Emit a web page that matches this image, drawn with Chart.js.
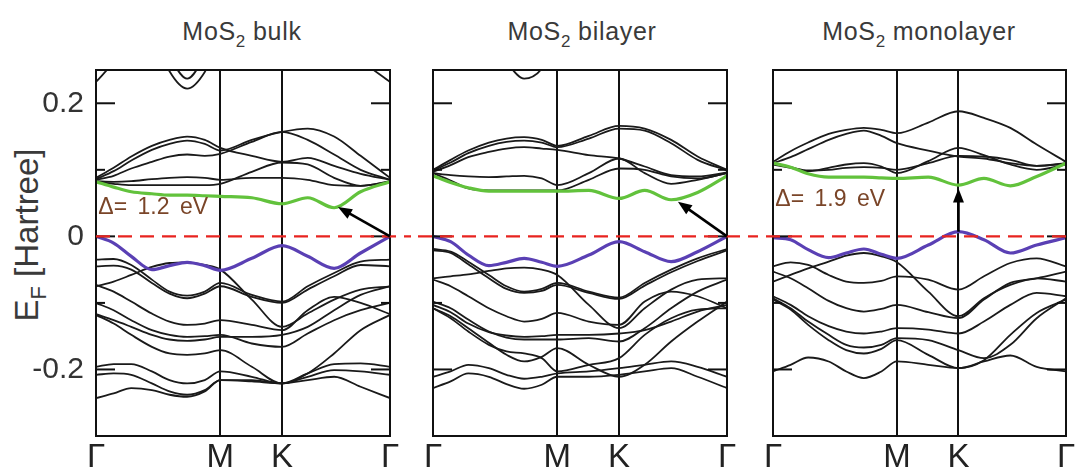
<!DOCTYPE html>
<html>
<head>
<meta charset="utf-8">
<script src="https://cdn.jsdelivr.net/npm/chart.js@4.4.1/dist/chart.umd.min.js"></script>
<style>
  html, body { margin: 0; padding: 0; background: #fff; }
  body { position: relative; width: 1079px; height: 468px; overflow: hidden;
         font-family: "Liberation Sans", Arial, sans-serif; }
  canvas { position: absolute; top: 0; }
  .title { position: absolute; top: 19px; font-size: 25px; line-height: 25px; color: #3a3a3a;
           white-space: nowrap; transform: translateX(-50%); letter-spacing: 0.7px; }
  .title sub { font-size: 17px; vertical-align: -7px; line-height: 0; letter-spacing: 0; }
  #ylab { position: absolute; left: -83px; top: 215px; width: 220px; height: 40px; line-height: 40px;
          text-align: center; font-size: 33px; color: #3a3a3a; white-space: nowrap;
          transform: rotate(-90deg); }
  #ylab sub { font-size: 22px; vertical-align: -8px; line-height: 0; }
</style>
</head>
<body>
<div class="title" style="left:242px">MoS<sub>2</sub> bulk</div>
<div class="title" style="left:582px">MoS<sub>2</sub> bilayer</div>
<div class="title" style="left:919px">MoS<sub>2</sub> monolayer</div>
<div id="ylab">E<sub>F</sub> [Hartree]</div>
<canvas id="bulk" width="411" height="468" style="left:0px"></canvas>
<canvas id="bilayer" width="339" height="468" style="left:411px"></canvas>
<canvas id="monolayer" width="329" height="468" style="left:750px"></canvas>
<script>
// k-path sample positions (Γ → M → K → Γ, normalised path length)
const kPositions = [0, 0.06, 0.12, 0.19, 0.25, 0.31, 0.37, 0.423, 0.53, 0.633, 0.72, 0.81, 0.90, 1.0];
const kLabels = ['Γ', 'M', 'K', 'Γ'];
const kLabelPositions = [0, 0.423, 0.633, 1];

const yTickValues = [-0.2, 0, 0.2];
const yTickLabels = ['-0.2', '0', '0.2'];
const yMinorTicks = [-0.1, 0.1];
const fermiLevel = 0;

// ---- MoS2 bulk (energies in Hartree) ----
const bulkValenceTop = [0.000, -0.010, -0.030, -0.050, -0.044, -0.039, -0.044, -0.051, -0.033, -0.014, -0.030, -0.048, -0.025, 0.000];
const bulkConductionBottom = [0.082, 0.074, 0.067, 0.064, 0.062, 0.062, 0.061, 0.060, 0.058, 0.049, 0.058, 0.043, 0.067, 0.082];
const bulkBands = [
  [0.232, 0.262, 0.300, 0.330, 0.340, 0.350, 0.350, 0.350, 0.340, 0.330, 0.320, 0.300, 0.265, 0.232],
  [0.350, 0.340, 0.330, 0.310, 0.248, 0.222, 0.247, 0.300, 0.330, 0.340, 0.340, 0.340, 0.350, 0.350],
  [0.360, 0.350, 0.340, 0.320, 0.270, 0.237, 0.270, 0.310, 0.340, 0.350, 0.350, 0.350, 0.360, 0.360],
  [0.088, 0.103, 0.120, 0.136, 0.145, 0.150, 0.145, 0.133, 0.121, 0.112, 0.118, 0.106, 0.094, 0.085],
  [0.086, 0.098, 0.114, 0.130, 0.139, 0.144, 0.139, 0.129, 0.145, 0.157, 0.162, 0.150, 0.121, 0.088],
  [0.085, 0.091, 0.102, 0.112, 0.120, 0.123, 0.121, 0.124, 0.142, 0.157, 0.145, 0.123, 0.100, 0.085],
  [0.083, 0.082, 0.083, 0.086, 0.088, 0.089, 0.088, 0.085, 0.088, 0.088, 0.085, 0.077, 0.076, 0.083],
  [0.082, 0.079, 0.077, 0.077, 0.077, 0.077, 0.077, 0.079, 0.097, 0.111, 0.108, 0.088, 0.076, 0.082],
  [-0.035, -0.034, -0.043, -0.065, -0.083, -0.089, -0.083, -0.070, -0.088, -0.098, -0.075, -0.055, -0.038, -0.035],
  [-0.045, -0.044, -0.050, -0.070, -0.086, -0.093, -0.086, -0.075, -0.091, -0.100, -0.080, -0.060, -0.043, -0.045],
  [-0.075, -0.068, -0.058, -0.046, -0.040, -0.039, -0.043, -0.050, -0.095, -0.136, -0.116, -0.095, -0.080, -0.075],
  [-0.073, -0.083, -0.098, -0.116, -0.128, -0.133, -0.131, -0.126, -0.133, -0.141, -0.111, -0.091, -0.100, -0.117],
  [-0.117, -0.126, -0.136, -0.148, -0.155, -0.157, -0.155, -0.151, -0.151, -0.148, -0.136, -0.111, -0.088, -0.075],
  [-0.118, -0.131, -0.148, -0.166, -0.176, -0.178, -0.176, -0.171, -0.196, -0.221, -0.206, -0.176, -0.141, -0.118],
  [-0.100, -0.111, -0.126, -0.141, -0.148, -0.151, -0.150, -0.148, -0.161, -0.166, -0.146, -0.126, -0.111, -0.100],
  [-0.196, -0.192, -0.192, -0.203, -0.216, -0.221, -0.216, -0.203, -0.211, -0.221, -0.206, -0.192, -0.191, -0.196],
  [-0.208, -0.206, -0.208, -0.221, -0.233, -0.238, -0.231, -0.216, -0.216, -0.221, -0.211, -0.201, -0.203, -0.208],
  [-0.243, -0.236, -0.228, -0.231, -0.238, -0.241, -0.233, -0.216, -0.218, -0.221, -0.216, -0.211, -0.226, -0.243]
];
const bulkGapArrow = [[1.0, 0.0], [0.823, 0.044]];
const bulkGapLabel = { text: 'Δ= 1.2 eV', at: [0.008, 0.043] };

// ---- MoS2 bilayer ----
const bilayerValenceTop = [0.000, -0.008, -0.028, -0.044, -0.039, -0.033, -0.039, -0.045, -0.028, -0.008, -0.023, -0.038, -0.023, 0.000];
const bilayerConductionBottom = [0.091, 0.081, 0.073, 0.068, 0.068, 0.068, 0.068, 0.068, 0.069, 0.057, 0.069, 0.055, 0.066, 0.091];
const bilayerBands = [
  [0.360, 0.350, 0.330, 0.300, 0.262, 0.237, 0.252, 0.300, 0.330, 0.350, 0.350, 0.350, 0.360, 0.360],
  [0.100, 0.115, 0.129, 0.141, 0.147, 0.149, 0.145, 0.136, 0.151, 0.166, 0.162, 0.145, 0.120, 0.100],
  [0.099, 0.111, 0.125, 0.136, 0.142, 0.144, 0.141, 0.134, 0.147, 0.162, 0.159, 0.140, 0.115, 0.099],
  [0.097, 0.107, 0.119, 0.127, 0.132, 0.134, 0.132, 0.130, 0.122, 0.117, 0.105, 0.092, 0.090, 0.096],
  [0.095, 0.092, 0.090, 0.089, 0.090, 0.091, 0.087, 0.077, 0.095, 0.117, 0.095, 0.079, 0.085, 0.095],
  [0.095, 0.084, 0.072, 0.069, 0.069, 0.069, 0.069, 0.069, 0.085, 0.102, 0.100, 0.090, 0.087, 0.095],
  [-0.019, -0.023, -0.038, -0.058, -0.075, -0.083, -0.079, -0.070, -0.083, -0.092, -0.070, -0.050, -0.033, -0.019],
  [-0.021, -0.025, -0.042, -0.063, -0.079, -0.085, -0.082, -0.073, -0.085, -0.094, -0.074, -0.054, -0.037, -0.021],
  [-0.063, -0.060, -0.057, -0.052, -0.048, -0.047, -0.050, -0.058, -0.103, -0.138, -0.108, -0.080, -0.065, -0.063],
  [-0.065, -0.075, -0.090, -0.108, -0.120, -0.128, -0.124, -0.115, -0.128, -0.133, -0.098, -0.083, -0.090, -0.108],
  [-0.098, -0.108, -0.125, -0.143, -0.152, -0.155, -0.155, -0.155, -0.153, -0.158, -0.138, -0.108, -0.083, -0.065],
  [-0.108, -0.120, -0.138, -0.160, -0.178, -0.188, -0.181, -0.168, -0.193, -0.211, -0.193, -0.158, -0.128, -0.098],
  [-0.103, -0.114, -0.131, -0.144, -0.149, -0.151, -0.150, -0.148, -0.148, -0.146, -0.141, -0.128, -0.113, -0.103],
  [-0.211, -0.203, -0.193, -0.198, -0.208, -0.214, -0.211, -0.206, -0.203, -0.198, -0.193, -0.188, -0.196, -0.211],
  [-0.228, -0.218, -0.206, -0.211, -0.222, -0.229, -0.223, -0.211, -0.211, -0.208, -0.203, -0.198, -0.211, -0.228],
  [-0.108, -0.123, -0.143, -0.163, -0.173, -0.176, -0.183, -0.203, -0.193, -0.183, -0.148, -0.123, -0.110, -0.108]
];
const bilayerGapArrow = [[1.0, 0.0], [0.833, 0.052]];

// ---- MoS2 monolayer ----
const monoValenceTop = [-0.002, -0.005, -0.020, -0.032, -0.025, -0.019, -0.027, -0.033, -0.013, 0.007, -0.005, -0.025, -0.013, -0.002];
const monoConductionBottom = [0.110, 0.104, 0.094, 0.089, 0.089, 0.089, 0.088, 0.087, 0.089, 0.077, 0.087, 0.076, 0.090, 0.110];
const monoBands = [
  [0.112, 0.128, 0.141, 0.154, 0.160, 0.163, 0.160, 0.155, 0.171, 0.188, 0.178, 0.163, 0.138, 0.112],
  [0.110, 0.119, 0.131, 0.145, 0.154, 0.159, 0.151, 0.140, 0.129, 0.120, 0.117, 0.110, 0.106, 0.110],
  [0.108, 0.103, 0.098, 0.103, 0.108, 0.110, 0.105, 0.095, 0.113, 0.133, 0.122, 0.108, 0.100, 0.108],
  [0.109, 0.104, 0.099, 0.100, 0.103, 0.104, 0.103, 0.100, 0.110, 0.121, 0.120, 0.115, 0.106, 0.109],
  [-0.045, -0.039, -0.043, -0.058, -0.068, -0.070, -0.067, -0.060, -0.065, -0.080, -0.060, -0.040, -0.033, -0.045],
  [-0.068, -0.058, -0.048, -0.038, -0.029, -0.025, -0.030, -0.039, -0.083, -0.120, -0.093, -0.073, -0.063, -0.068],
  [-0.053, -0.063, -0.078, -0.097, -0.108, -0.113, -0.109, -0.103, -0.114, -0.123, -0.095, -0.070, -0.063, -0.053],
  [-0.090, -0.103, -0.120, -0.135, -0.143, -0.146, -0.143, -0.138, -0.140, -0.146, -0.128, -0.103, -0.085, -0.090],
  [-0.095, -0.110, -0.133, -0.156, -0.171, -0.176, -0.169, -0.156, -0.178, -0.198, -0.186, -0.148, -0.115, -0.095],
  [-0.203, -0.193, -0.182, -0.188, -0.203, -0.213, -0.203, -0.188, -0.193, -0.198, -0.188, -0.179, -0.196, -0.203],
  [-0.093, -0.108, -0.128, -0.148, -0.163, -0.167, -0.163, -0.153, -0.156, -0.171, -0.183, -0.163, -0.123, -0.093]
];
const monoGapArrow = [[0.633, 0.007], [0.633, 0.072]];
const monoGapLabel = { text: 'Δ= 1.9 eV', at: [0.008, 0.055] };

// ---- styling ----
const BAND_COLOR = '#1a1a1a';
const CB_COLOR = '#62c23c';
const VB_COLOR = '#5a40b4';
const FERMI_COLOR = '#e8231f';
const LABEL_COLOR = '#7a4528';
const TEXT_COLOR = '#333333';
const FONT = '"Liberation Sans", Arial, sans-serif';

function toPoints(values) {
  return values.map((v, i) => ({ x: kPositions[i], y: v }));
}

function bandDataset(values, color, width, order) {
  return {
    data: toPoints(values),
    borderColor: color,
    borderWidth: width,
    pointRadius: 0,
    fill: false,
    cubicInterpolationMode: 'monotone',
    order: order
  };
}

// frame, inner ticks, Fermi level, gap arrow and label
const panelDecor = {
  id: 'panelDecor',
  afterDatasetsDraw(chart, args, o) {
    const { ctx, chartArea: a, scales: { x, y } } = chart;
    const seg = (x1, y1, x2, y2) => { ctx.beginPath(); ctx.moveTo(x1, y1); ctx.lineTo(x2, y2); ctx.stroke(); };
    ctx.save();
    ctx.strokeStyle = '#111';
    ctx.lineWidth = 2;
    for (const t of yTickValues) {
      const py = y.getPixelForValue(t);
      seg(a.left, py, a.left + 19, py);
      seg(a.right - 19, py, a.right, py);
    }
    for (const t of yMinorTicks) {
      const py = y.getPixelForValue(t);
      seg(a.left, py, a.left + 9, py);
      seg(a.right - 9, py, a.right, py);
    }
    ctx.strokeRect(a.left, a.top, a.right - a.left, a.bottom - a.top);

    // Fermi level
    const fy = y.getPixelForValue(fermiLevel);
    const fx1 = o.fermiFromEdge ? 0 : a.left;
    const fx2 = o.fermiToEdge ? chart.width : a.right;
    ctx.strokeStyle = FERMI_COLOR;
    ctx.lineWidth = 2.4;
    ctx.setLineDash([14, 8]);
    ctx.lineDashOffset = -((o.offset + fx1 - 96) % 22);
    seg(fx1, fy, fx2, fy);
    ctx.setLineDash([]);

    // gap arrow
    if (o.arrow) {
      const [p0, p1] = o.arrow;
      const x0 = x.getPixelForValue(p0[0]), y0 = y.getPixelForValue(p0[1]);
      const x1 = x.getPixelForValue(p1[0]), y1 = y.getPixelForValue(p1[1]);
      const ang = Math.atan2(y1 - y0, x1 - x0);
      const hl = 14, hw = 5.5;
      ctx.strokeStyle = '#000';
      ctx.fillStyle = '#000';
      ctx.lineWidth = 2.6;
      seg(x0, y0, x1 - Math.cos(ang) * (hl - 2), y1 - Math.sin(ang) * (hl - 2));
      ctx.beginPath();
      ctx.moveTo(x1, y1);
      ctx.lineTo(x1 - Math.cos(ang) * hl - Math.sin(ang) * hw, y1 - Math.sin(ang) * hl + Math.cos(ang) * hw);
      ctx.lineTo(x1 - Math.cos(ang) * hl + Math.sin(ang) * hw, y1 - Math.sin(ang) * hl - Math.cos(ang) * hw);
      ctx.closePath();
      ctx.fill();
    }

    // gap label
    if (o.label) {
      ctx.font = '23px ' + FONT;
      ctx.fillStyle = LABEL_COLOR;
      ctx.textAlign = 'left';
      ctx.textBaseline = 'middle';
      if ('wordSpacing' in ctx) ctx.wordSpacing = '4px';
      ctx.fillText(o.label.text, x.getPixelForValue(o.label.at[0]), y.getPixelForValue(o.label.at[1]));
    }
    ctx.restore();
  }
};

function makePanel(canvasId, cfg) {
  const datasets = [
    bandDataset(cfg.conduction, CB_COLOR, 3.2, 0),
    bandDataset(cfg.valence, VB_COLOR, 3.2, 0)
  ];
  cfg.bands.forEach(b => datasets.push(bandDataset(b, BAND_COLOR, 1.8, 1)));

  return new Chart(document.getElementById(canvasId), {
    type: 'line',
    data: { datasets },
    plugins: [panelDecor],
    options: {
      responsive: false,
      animation: false,
      devicePixelRatio: 1,
      layout: { padding: { top: 70, right: cfg.rightPad, bottom: 0, left: 0 } },
      plugins: {
        legend: { display: false },
        tooltip: { enabled: false },
        panelDecor: {
          fermiFromEdge: cfg.fermiFromEdge,
          fermiToEdge: cfg.fermiToEdge,
          offset: cfg.offset,
          arrow: cfg.arrow,
          label: cfg.label
        }
      },
      scales: {
        x: {
          type: 'linear',
          min: 0,
          max: 1,
          afterBuildTicks: s => { s.ticks = kLabelPositions.map(v => ({ value: v })); },
          afterFit: s => { s.height = 32; },
          border: { display: false },
          grid: { color: '#111', lineWidth: 2, drawTicks: false },
          ticks: {
            autoSkip: false,
            maxRotation: 0,
            padding: 2,
            color: '#222',
            font: { family: FONT, size: 33 },
            callback: (v, i) => kLabels[i]
          }
        },
        y: {
          type: 'linear',
          min: -0.3,
          max: 0.25,
          afterBuildTicks: s => { s.ticks = yTickValues.map(v => ({ value: v })); },
          afterFit: s => { s.width = cfg.leftWidth; },
          border: { display: false },
          grid: { display: false, drawTicks: false },
          ticks: {
            display: cfg.showYTicks,
            padding: 12,
            color: TEXT_COLOR,
            font: { family: FONT, size: 30 },
            callback: (v, i) => yTickLabels[i]
          }
        }
      }
    }
  });
}

makePanel('bulk', {
  conduction: bulkConductionBottom, valence: bulkValenceTop, bands: bulkBands,
  arrow: bulkGapArrow, label: bulkGapLabel,
  leftWidth: 96, rightPad: 21, showYTicks: true,
  fermiFromEdge: false, fermiToEdge: true, offset: 0
});
makePanel('bilayer', {
  conduction: bilayerConductionBottom, valence: bilayerValenceTop, bands: bilayerBands,
  arrow: bilayerGapArrow, label: null,
  leftWidth: 22, rightPad: 23, showYTicks: false,
  fermiFromEdge: true, fermiToEdge: true, offset: 411
});
makePanel('monolayer', {
  conduction: monoConductionBottom, valence: monoValenceTop, bands: monoBands,
  arrow: monoGapArrow, label: monoGapLabel,
  leftWidth: 23, rightPad: 13, showYTicks: false,
  fermiFromEdge: true, fermiToEdge: false, offset: 750
});
</script>
</body>
</html>
